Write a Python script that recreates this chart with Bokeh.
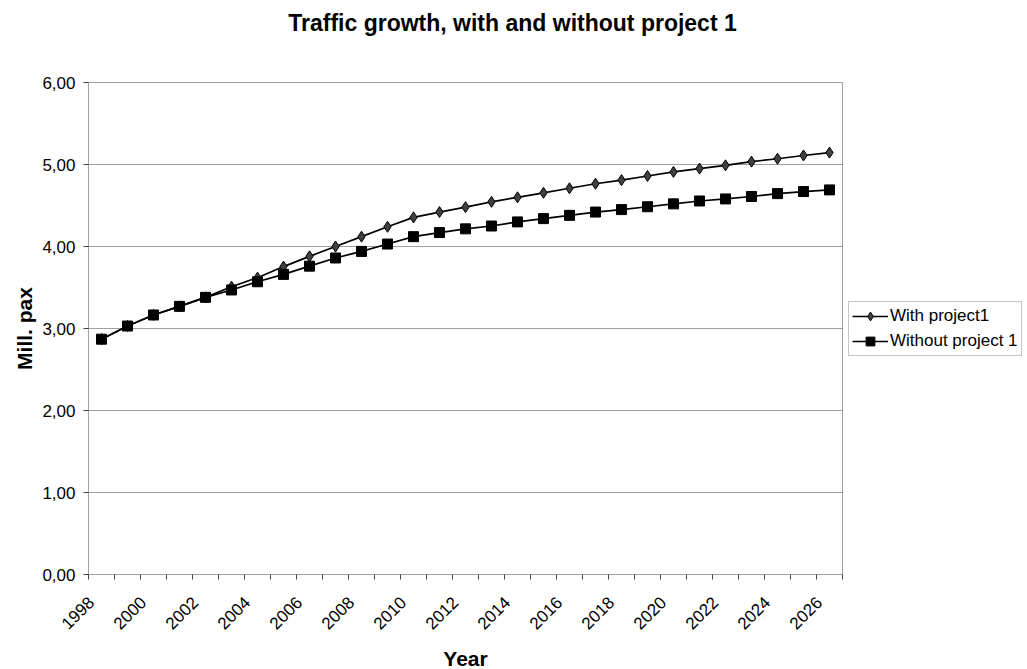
import math
from bokeh.plotting import figure
from bokeh.models import (ColumnDataSource, FixedTicker, Label, Legend, LegendItem, Range1d)
from bokeh.embed import file_html
from bokeh.resources import INLINE

# Traffic forecast, million passengers per year
years = list(range(1998, 2027))
with_project = [2.87, 3.03, 3.165, 3.27, 3.38, 3.51, 3.62, 3.755, 3.88, 4.00,
                4.12, 4.24, 4.355, 4.42, 4.48, 4.545, 4.60, 4.655, 4.71, 4.765,
                4.81, 4.86, 4.91, 4.95, 4.99, 5.035, 5.07, 5.11, 5.145]
without_project = [2.87, 3.03, 3.165, 3.27, 3.38, 3.47, 3.57, 3.66, 3.76, 3.86,
                   3.94, 4.03, 4.12, 4.17, 4.215, 4.25, 4.30, 4.34, 4.38, 4.42,
                   4.45, 4.485, 4.52, 4.555, 4.58, 4.61, 4.645, 4.67, 4.69]
y_ticks = [0, 1, 2, 3, 4, 5, 6]
y_tick_labels = ["0,00", "1,00", "2,00", "3,00", "4,00", "5,00", "6,00"]
x_tick_years = years[::2]

FONT = "Liberation Sans"

# Canvas layout in pixels. The frame covers the whole canvas; the plotting
# area is a box inside it, so title, legend and axis titles are never clipped.
W, H = 1027, 669
AREA_LEFT, AREA_TOP = 88, 82
AREA_W, AREA_H = 754, 492
AREA_BOTTOM = AREA_TOP + AREA_H

x0, x1 = years[0] - 0.5, years[-1] + 0.5      # category band edges
y0, y1 = y_ticks[0], y_ticks[-1]
px_x = AREA_W / (x1 - x0)
px_y = AREA_H / (y1 - y0)
x_range = Range1d(x0 - AREA_LEFT / px_x, x1 + (W - AREA_LEFT - AREA_W) / px_x)
y_range = Range1d(y0 - (H - AREA_BOTTOM) / px_y, y1 + AREA_TOP / px_y)

src = ColumnDataSource(dict(year=years, with_p=with_project, without_p=without_project))

p = figure(width=W, height=H, output_backend="svg", toolbar_location=None,
           x_range=x_range, y_range=y_range, min_border=0)

p.background_fill_color = "white"
p.border_fill_color = "white"
p.outline_line_color = None
p.xgrid.visible = False
p.ygrid.visible = False

# Horizontal grid lines inside the plotting area
grid_vals = y_ticks[1:-1]
p.segment(x0=[x0] * len(grid_vals), x1=[x1] * len(grid_vals),
          y0=grid_vals, y1=grid_vals, line_color="#a0a0a0", line_width=1)

# Dotted border of the plotting area
p.quad(left=[x0], right=[x1], bottom=[y0], top=[y1], fill_color=None,
       line_color="#444444", line_dash="1 1", line_width=1)

# Y axis
p.yaxis.fixed_location = x0
p.yaxis.bounds = (y0, y1)
p.yaxis.ticker = FixedTicker(ticks=y_ticks)
p.yaxis.major_label_overrides = {t: s for t, s in zip(y_ticks, y_tick_labels)}
p.yaxis.minor_tick_line_color = None
p.yaxis.major_tick_in = 0
p.yaxis.major_tick_out = 5
p.yaxis.major_tick_line_color = "#444444"
p.yaxis.axis_line_color = None
p.yaxis.major_label_standoff = 8

# X axis: year labels every second category, tick marks between categories.
# Labels are anchored a little left of the category centre so that the
# rotated text ends just below its tick.
label_shift = 0.4
p.xaxis.fixed_location = y0
p.xaxis.bounds = (x0, x1)
p.xaxis.ticker = FixedTicker(ticks=[yr - label_shift for yr in x_tick_years],
                             minor_ticks=[yr - 0.5 for yr in years] + [x1])
p.xaxis.major_label_overrides = {yr - label_shift: str(yr) for yr in x_tick_years}
p.xaxis.major_label_orientation = math.pi / 4
p.xaxis.major_tick_line_color = None
p.xaxis.minor_tick_in = 0
p.xaxis.minor_tick_out = 5
p.xaxis.minor_tick_line_color = "#444444"
p.xaxis.axis_line_color = None
p.xaxis.major_label_standoff = 19

for ax in (p.xaxis, p.yaxis):
    ax.major_label_text_font = FONT
    ax.major_label_text_font_size = "17px"
    ax.major_label_text_color = "black"

# Title and axis titles
p.add_layout(Label(x=512, y=H - 22, x_units="screen", y_units="screen",
                   text="Traffic growth, with and without project 1",
                   text_align="center", text_baseline="middle",
                   text_font=FONT, text_font_size="23px", text_font_style="bold",
                   text_color="black"))
p.add_layout(Label(x=(x0 + x1) / 2, y=H - 658, x_units="data", y_units="screen",
                   text="Year", text_align="center", text_baseline="middle",
                   text_font=FONT, text_font_size="21px", text_font_style="bold",
                   text_color="black"))
p.add_layout(Label(x=24, y=(y0 + y1) / 2, x_units="screen", y_units="data",
                   text="Mill. pax", angle=math.pi / 2,
                   text_align="center", text_baseline="middle",
                   text_font=FONT, text_font_size="21px", text_font_style="bold",
                   text_color="black"))

# Series
l1 = p.line("year", "with_p", source=src, line_color="black", line_width=1.7)
m1 = p.scatter("year", "with_p", source=src, marker="diamond", size=11,
               fill_color="#404040", line_color="black", line_width=1)
l2 = p.line("year", "without_p", source=src, line_color="black", line_width=1.7)
m2 = p.scatter("year", "without_p", source=src, marker="square", size=10,
               fill_color="black", line_color="black")

legend = Legend(items=[LegendItem(label="With project1", renderers=[l1, m1]),
                       LegendItem(label="Without project 1", renderers=[l2, m2])],
                location=(AREA_LEFT + AREA_W + 6, H - 356))
legend.label_text_font = FONT
legend.label_text_font_size = "17px"
legend.label_text_color = "black"
legend.border_line_color = "#909090"
legend.border_line_width = 1
legend.background_fill_color = "white"
legend.glyph_width = 36
legend.glyph_height = 22
legend.label_standoff = 2
legend.spacing = 3
legend.padding = 3
legend.margin = 0
p.add_layout(legend, "center")

open("out.html", "w").write(file_html(p, INLINE))
